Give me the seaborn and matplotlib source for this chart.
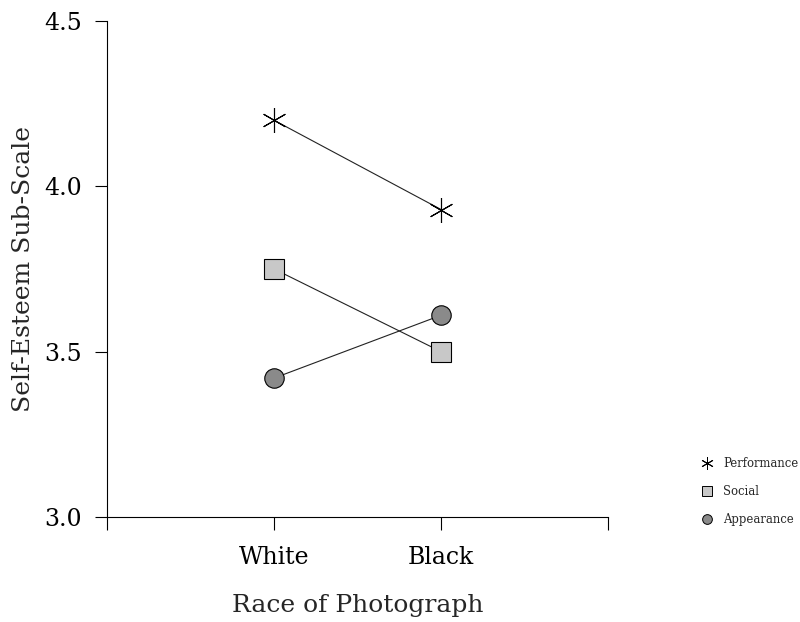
import pandas as pd
import numpy as np
import matplotlib.pyplot as plt
import seaborn as sns
from matplotlib.lines import Line2D

# -- data
races = ["White", "Black"]
performance = [4.20, 3.93]
social = [3.75, 3.50]
appearance = [3.42, 3.61]
series_names = ["Performance", "Social", "Appearance"]

df = pd.DataFrame({
    "Race": races * 3,
    "pos": [0, 1] * 3,
    "Score": performance + social + appearance,
    "Subscale": [s for s in series_names for _ in races],
})

sns.set_theme(style="ticks")
plt.rcParams["font.family"] = ["DejaVu Serif"]

fig = plt.figure(figsize=(8, 6.22), dpi=100)
ax = fig.add_axes([0.134, 0.169, 0.626, 0.797])

markers = {"Performance": (6, 2, 0), "Social": "s", "Appearance": "o"}
faces = {"Performance": "black", "Social": "#c8c8c8", "Appearance": "#8a8a8a"}
sizes = {"Performance": 18, "Social": 14, "Appearance": 14}

for name in series_names:
    sub = df[df["Subscale"] == name]
    sns.lineplot(data=sub, x="pos", y="Score", ax=ax, color="#222222",
                 linewidth=0.8, marker=markers[name], markersize=sizes[name],
                 markerfacecolor=faces[name], markeredgecolor="black",
                 markeredgewidth=0.8, legend=False)

ax.set_xlim(-1, 2)
ax.set_ylim(3.0, 4.5)
ax.set_xticks([-1, 0, 1, 2])
ax.set_xticklabels(["", "White", "Black", ""])
ax.set_yticks([3.0, 3.5, 4.0, 4.5])
ax.set_yticklabels(["3.0", "3.5", "4.0", "4.5"])
ax.tick_params(axis="both", direction="out", length=9, width=0.8,
               labelsize=17, pad=9, colors="black")
ax.tick_params(axis="x", pad=12)
for side in ["top", "right"]:
    ax.spines[side].set_visible(False)
for side in ["left", "bottom"]:
    ax.spines[side].set_linewidth(0.8)
    ax.spines[side].set_color("black")

ax.set_xlabel("Race of Photograph", fontsize=18, labelpad=18)
ax.set_ylabel("Self-Esteem Sub-Scale", fontsize=18, labelpad=7)

handles = [Line2D([], [], linestyle="none", marker=markers[n], markersize=9 if n == "Performance" else 7,
                  markerfacecolor=faces[n], markeredgecolor="black", markeredgewidth=0.7)
           for n in series_names]
fig.legend(handles, series_names, loc="upper left", bbox_to_anchor=(0.866, 0.279),
           frameon=False, fontsize=8.4, handletextpad=0.9, labelspacing=1.3,
           handlelength=1.0, borderpad=0.2)

plt.savefig("out.png", dpi=100)
